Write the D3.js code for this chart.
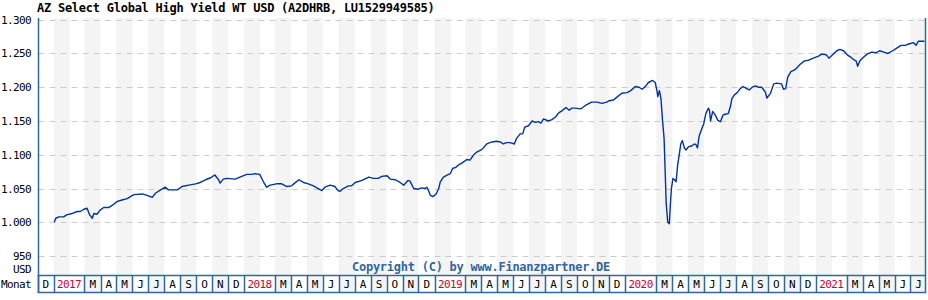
<!DOCTYPE html>
<html>
<head>
<meta charset="utf-8">
<script src="https://cdn.jsdelivr.net/npm/d3@7"></script>
<style>
body { margin: 0; background: #fff; }
svg { display: block; }
.lbl { font-family: "DejaVu Sans Mono", monospace; font-size: 11px; letter-spacing: -0.6px; fill: #000; }
.year { fill: #cc0033; }
.title { font-family: "DejaVu Sans Mono", monospace; font-size: 12px; font-weight: bold; letter-spacing: -0.25px; fill: #000; }
.copy { font-family: "DejaVu Sans Mono", monospace; font-size: 12px; font-weight: bold; letter-spacing: -0.25px; fill: #336699; }
</style>
</head>
<body>
<script>
//Chart data
var dates = [
"2017-01-02","2017-01-05","2017-01-11","2017-01-20","2017-01-26","2017-02-05","2017-02-15","2017-02-21","2017-02-27","2017-03-06",
"2017-03-11","2017-03-16","2017-03-19","2017-03-25","2017-03-31","2017-04-07","2017-04-17","2017-04-23","2017-05-03","2017-05-12",
"2017-05-22","2017-05-28","2017-06-04","2017-06-20","2017-06-29","2017-07-09","2017-07-15","2017-07-25","2017-08-03","2017-08-09",
"2017-08-26","2017-09-04","2017-09-17","2017-09-30","2017-10-09","2017-10-19","2017-10-29","2017-11-04","2017-11-06","2017-11-13",
"2017-11-16","2017-11-22","2017-11-29","2017-12-15","2017-12-24","2018-01-06","2018-01-16","2018-01-22","2018-01-31","2018-02-07",
"2018-02-13","2018-02-20","2018-03-04","2018-03-14","2018-03-24","2018-04-02","2018-04-08","2018-04-16","2018-04-25","2018-05-04",
"2018-05-14","2018-05-23","2018-05-30","2018-06-05","2018-06-15","2018-06-24","2018-06-30","2018-07-04","2018-07-10","2018-07-20",
"2018-07-26","2018-08-02","2018-08-15","2018-08-28","2018-09-06","2018-09-15","2018-09-22","2018-10-02","2018-10-08","2018-10-18",
"2018-10-27","2018-11-03","2018-11-11","2018-11-15","2018-11-22","2018-12-01","2018-12-07","2018-12-14","2018-12-17","2018-12-20",
"2018-12-24","2018-12-29","2019-01-04","2019-01-09","2019-01-12","2019-01-18","2019-01-25","2019-01-31","2019-02-05","2019-02-10",
"2019-02-16","2019-02-23","2019-03-04","2019-03-10","2019-03-17","2019-03-23","2019-04-02","2019-04-11","2019-04-21","2019-04-30",
"2019-05-07","2019-05-13","2019-05-19","2019-05-26","2019-06-03","2019-06-07","2019-06-14","2019-06-19","2019-06-23","2019-06-30",
"2019-07-07","2019-07-13","2019-07-19","2019-07-24","2019-07-29","2019-08-07","2019-08-14","2019-08-21","2019-08-27","2019-09-02",
"2019-09-10","2019-09-16","2019-09-21","2019-09-28","2019-10-08","2019-10-12","2019-10-19","2019-10-29","2019-11-08","2019-11-18",
"2019-11-27","2019-12-02","2019-12-10","2019-12-16","2019-12-26","2020-01-05","2020-01-12","2020-01-21","2020-01-28","2020-02-03",
"2020-02-09","2020-02-15","2020-02-23","2020-02-28","2020-03-02","2020-03-04","2020-03-07","2020-03-10","2020-03-13","2020-03-16",
"2020-03-18","2020-03-20","2020-03-23","2020-03-26","2020-03-28","2020-03-30","2020-04-02","2020-04-05","2020-04-08","2020-04-11",
"2020-04-14","2020-04-17","2020-04-20","2020-04-24","2020-04-27","2020-05-02","2020-05-08","2020-05-13","2020-05-16","2020-05-19",
"2020-05-22","2020-05-26","2020-05-31","2020-06-04","2020-06-09","2020-06-11","2020-06-13","2020-06-17","2020-06-22","2020-06-27",
"2020-07-02","2020-07-07","2020-07-11","2020-07-17","2020-07-21","2020-07-24","2020-07-28","2020-08-03","2020-08-09","2020-08-14",
"2020-08-19","2020-08-26","2020-09-01","2020-09-07","2020-09-13","2020-09-19","2020-09-26","2020-09-29","2020-10-06","2020-10-12",
"2020-10-18","2020-10-27","2020-10-31","2020-11-04","2020-11-08","2020-11-14","2020-11-22","2020-12-02","2020-12-10","2020-12-18",
"2020-12-27","2021-01-06","2021-01-12","2021-01-21","2021-01-26","2021-02-02","2021-02-10","2021-02-16","2021-02-23","2021-03-02",
"2021-03-08","2021-03-14","2021-03-19","2021-03-22","2021-03-26","2021-03-31","2021-04-09","2021-04-18","2021-04-26","2021-05-03",
"2021-05-11","2021-05-19","2021-05-28","2021-06-05","2021-06-13","2021-06-21","2021-06-28","2021-07-07","2021-07-12","2021-07-16",
"2021-07-23","2021-07-28"];

var values = [
1000,1006,1008,1008,1011,1013,1016,1016,1019,1021,
1011,1006,1013,1012,1018,1022,1022,1025,1031,1033,
1035,1038,1041,1042,1040,1037,1043,1048,1052,1048,
1048,1053,1055,1057,1059,1063,1066,1069,1070,1063,
1058,1064,1065,1064,1067,1071,1071,1072,1071,1060,
1052,1055,1057,1057,1053,1054,1058,1063,1059,1057,
1054,1050,1047,1052,1055,1053,1047,1046,1050,1054,
1054,1059,1062,1067,1065,1065,1068,1069,1064,1063,
1059,1055,1062,1061,1050,1049,1051,1050,1052,1048,
1040,1038,1042,1050,1060,1067,1070,1072,1080,1081,
1085,1088,1093,1092,1100,1104,1108,1116,1119,1120,
1119,1116,1118,1118,1116,1124,1131,1131,1141,1143,
1150,1148,1149,1147,1153,1150,1152,1156,1162,1165,
1170,1166,1169,1169,1168,1170,1174,1178,1178,1176,
1178,1180,1181,1185,1191,1192,1195,1201,1200,1197,
1201,1207,1210,1207,1196,1186,1195,1183,1151,1124,
1077,1028,1000,998,1026,1050,1065,1063,1060,1085,
1100,1116,1121,1110,1107,1112,1113,1116,1115,1110,
1127,1136,1146,1161,1169,1166,1150,1164,1159,1151,
1149,1159,1160,1161,1171,1183,1188,1192,1198,1201,
1199,1196,1200,1202,1200,1200,1193,1184,1191,1205,
1206,1205,1197,1198,1215,1223,1226,1234,1239,1240,
1243,1246,1249,1248,1243,1248,1254,1256,1254,1248,
1245,1241,1239,1231,1239,1243,1249,1252,1251,1254,
1252,1250,1254,1258,1262,1262,1264,1266,1262,1268,
1268,1268];

var yTicks = [950, 1000, 1050, 1100, 1150, 1200, 1250, 1300];
var monthLetters = ["J","F","M","A","M","J","J","A","S","O","N","D"];
var startDate = "2016-12-01",
    endDate = "2021-07-31";
var title = "AZ Select Global High Yield WT USD (A2DHRB, LU1529949585)";
var copyright = "Copyright (C) by www.Finanzpartner.DE";

(function () {
//Frame dimensions
    var width = 928,
        height = 300,
        plotLeft = 37.5,
        plotRight = 926,
        plotTop = 18,
        plotBottom = 275,
        rowBottom = 292;

    var parse = d3.timeParse("%Y-%m-%d");
    var data = dates.map(function(d, i){
        return {date: parse(d), value: values[i]};
    });

    var x = d3.scaleTime()
        .domain([parse(startDate), parse(endDate)])
        .range([plotLeft, plotRight]);

    var y = d3.scaleLinear()
        .domain([922, 1302.5])
        .range([plotBottom, plotTop]);

//German number format, 1.300
    var de = d3.formatLocale({decimal: ",", thousands: ".", grouping: [3], currency: ["", " €"]});
    var fmt = de.format(",");

    var svg = d3.select("body")
        .append("svg")
        .attr("width", width)
        .attr("height", height);

//Month stripes
    var months = d3.timeMonth.range(parse(startDate), parse(endDate));
    svg.selectAll(".stripe")
        .data(months.filter(function(d){ return d.getMonth() % 2 == 0; }))
        .enter()
        .append("rect")
        .attr("class", "stripe")
        .attr("x", function(d){ return x(d); })
        .attr("y", plotTop)
        .attr("width", function(d){ return Math.min(x(d3.timeMonth.offset(d, 1)), plotRight) - x(d); })
        .attr("height", plotBottom - plotTop)
        .attr("fill", "#f4f4f4");

//Dashed gridlines
    svg.selectAll(".grid")
        .data(yTicks)
        .enter()
        .append("line")
        .attr("class", "grid")
        .attr("x1", plotLeft + 1)
        .attr("x2", plotRight)
        .attr("y1", function(d){ return Math.round(y(d)) + 0.5; })
        .attr("y2", function(d){ return Math.round(y(d)) + 0.5; })
        .attr("stroke", "#cccccc")
        .attr("stroke-dasharray", "6,5");

//Y labels
    var yAxis = d3.axisLeft(y)
        .tickValues(yTicks)
        .tickSize(0)
        .tickPadding(0)
        .tickFormat(fmt);

    var axis = svg.append("g")
        .attr("transform", "translate(31,0)")
        .call(yAxis)
        .attr("font-family", null)
        .attr("font-size", null);
    axis.select(".domain").remove();
    axis.selectAll("text")
        .attr("class", "lbl")
        .attr("fill", null);

    svg.append("text")
        .attr("class", "lbl")
        .attr("x", 31)
        .attr("y", 273)
        .attr("text-anchor", "end")
        .text("USD");

//Price line
    var line = d3.line()
        .x(function(d){ return x(d.date); })
        .y(function(d){ return y(d.value); });

    svg.append("path")
        .datum(data)
        .attr("d", line)
        .attr("fill", "none")
        .attr("stroke", "#0033a0")
        .attr("stroke-width", 1.4)
        .attr("stroke-linejoin", "round");

//Copyright
    svg.append("text")
        .attr("class", "copy")
        .attr("x", 481)
        .attr("y", 271)
        .attr("text-anchor", "middle")
        .text(copyright);

//Month row: January carries the year and spans two months
    var cells = [];
    months.forEach(function(d){
        var m = d.getMonth();
        if (m == 1) return;
        var end = d3.timeMonth.offset(d, m == 0 ? 2 : 1);
        cells.push({
            x0: x(d),
            x1: Math.min(x(end), plotRight),
            label: m == 0 ? String(d.getFullYear()) : monthLetters[m],
            year: m == 0,
            shade: m % 2 == 0 && m != 0
        });
    });

    var cell = svg.selectAll(".cell")
        .data(cells)
        .enter()
        .append("g")
        .attr("class", "cell");

    cell.append("rect")
        .attr("x", function(d){ return d.x0; })
        .attr("y", plotBottom)
        .attr("width", function(d){ return d.x1 - d.x0; })
        .attr("height", rowBottom - plotBottom)
        .attr("fill", function(d){ return d.shade ? "#f4f4f4" : "#fff"; });

    cell.append("line")
        .attr("x1", function(d){ return Math.round(d.x0) + 0.5; })
        .attr("x2", function(d){ return Math.round(d.x0) + 0.5; })
        .attr("y1", plotBottom)
        .attr("y2", rowBottom)
        .attr("stroke", "#336699")
        .attr("stroke-width", 1.5);

    cell.append("text")
        .attr("class", function(d){ return d.year ? "lbl year" : "lbl"; })
        .attr("x", function(d){ return (d.x0 + d.x1) / 2; })
        .attr("y", 288)
        .attr("text-anchor", "middle")
        .text(function(d){ return d.label; });

//Frame lines
    function frameLine(x1, y1, x2, y2){
        svg.append("line")
            .attr("x1", x1).attr("y1", y1)
            .attr("x2", x2).attr("y2", y2)
            .attr("stroke", "#336699")
            .attr("stroke-width", 1.5);
    }
    frameLine(plotLeft, plotBottom + 0.5, plotRight, plotBottom + 0.5);
    frameLine(plotLeft, rowBottom + 0.5, plotRight, rowBottom + 0.5);
    frameLine(Math.round(plotLeft) + 0.5, plotTop, Math.round(plotLeft) + 0.5, rowBottom + 1);
    frameLine(plotRight - 0.5, plotTop, plotRight - 0.5, rowBottom + 1);

    svg.append("text")
        .attr("class", "lbl")
        .attr("x", 1)
        .attr("y", 288)
        .text("Monat");

//Title
    svg.append("text")
        .attr("class", "title")
        .attr("x", 37)
        .attr("y", 12)
        .text(title);
})();
</script>
</body>
</html>
